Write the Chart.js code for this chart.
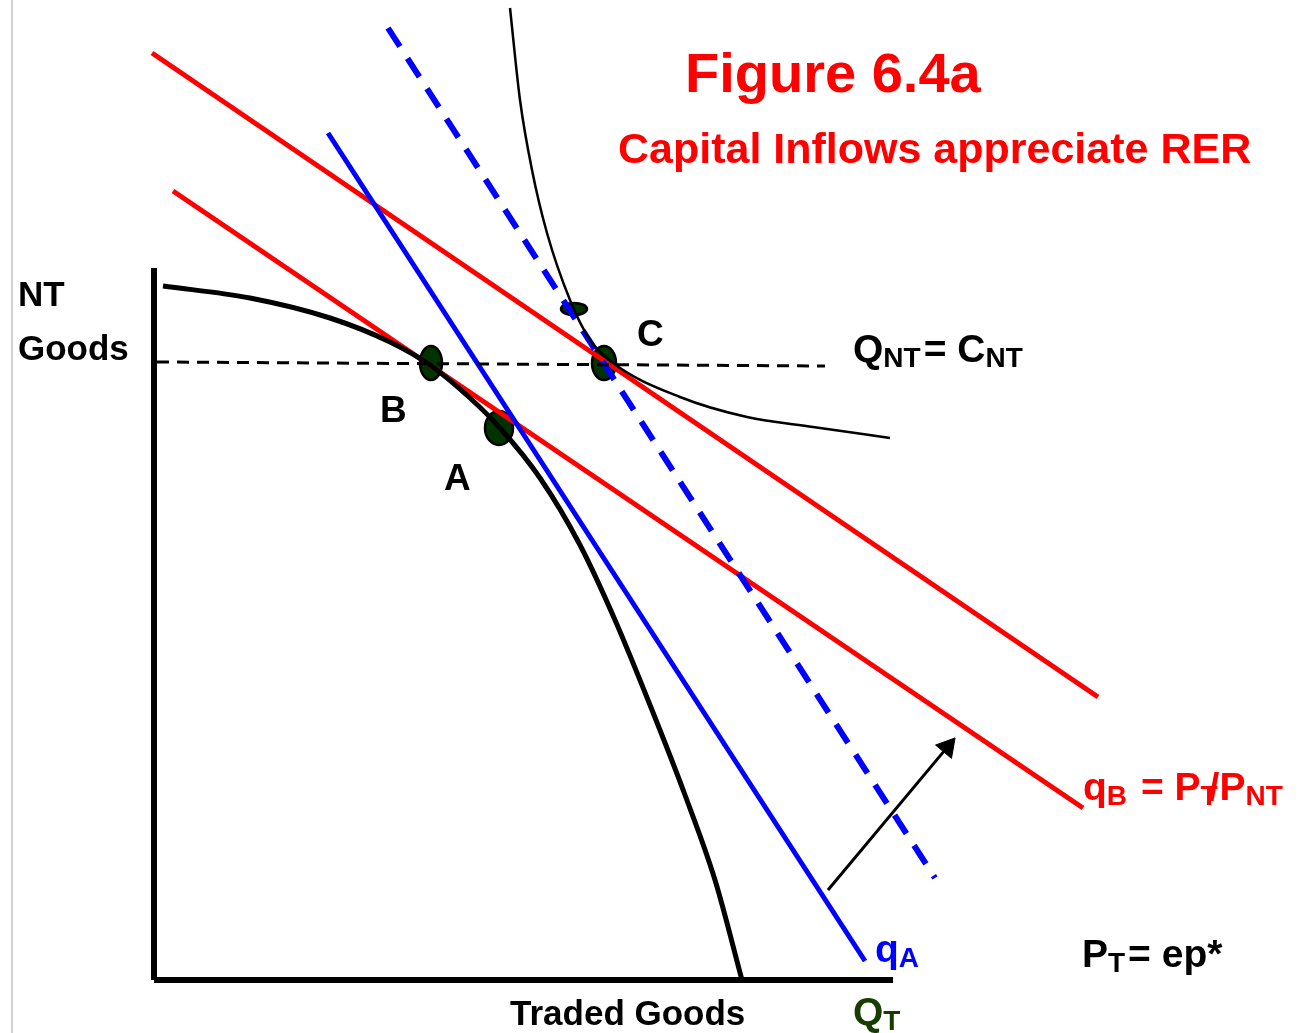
<!DOCTYPE html>
<html>
<head>
<meta charset="utf-8">
<script src="https://cdn.jsdelivr.net/npm/chart.js@4.4.1/dist/chart.umd.min.js"></script>
<style>
  html, body { margin: 0; padding: 0; background: #fff; }
  #wrap { width: 1299px; height: 1033px; position: relative; }
</style>
</head>
<body>
<div id="wrap"><canvas id="fig"></canvas></div>
<script>
// diagram units: origin at the corner of the axes
const ppfCurve = [
  { x: 0.6, y: 69.4 }, { x: 9.3, y: 68.2 }, { x: 17.3, y: 66.2 }, { x: 23.3, y: 63.8 },
  { x: 27.3, y: 61.5 }, { x: 31.3, y: 58.2 }, { x: 34.3, y: 55.2 }, { x: 38.3, y: 50.2 },
  { x: 42.3, y: 43.5 }, { x: 45.8, y: 36.0 }, { x: 49.3, y: 27.5 }, { x: 52.8, y: 18.5 },
  { x: 55.8, y: 10.0 }, { x: 58.5, y: 0 }
]
const indifference = [
  { x: 35.3, y: 97.2 }, { x: 36.3, y: 88.0 }, { x: 37.5, y: 81.0 }, { x: 39.0, y: 74.7 },
  { x: 41.3, y: 68.0 }, { x: 43.3, y: 64.0 }, { x: 45.6, y: 61.7 }, { x: 52.3, y: 58.3 },
  { x: 59.0, y: 56.3 }, { x: 65.6, y: 55.3 }, { x: 73.3, y: 54.2 }
]
const qBUpper = [{ x: -0.5, y: 92.7 }, { x: 94.1, y: 28.3 }]
const qBLower = [{ x: 1.6, y: 78.9 }, { x: 92.6, y: 17.2 }]
const qASolid = [{ x: 17.1, y: 84.7 }, { x: 70.8, y: 1.9 }]
const qADashed = [{ x: 23.1, y: 95.2 }, { x: 77.8, y: 10.2 }]
const qntLine = [{ x: 0, y: 61.8 }, { x: 66.8, y: 61.4 }]
const yAxisLine = [{ x: -0.3, y: 71.2 }, { x: -0.3, y: 0 }]
const xAxisLine = [{ x: -0.3, y: 0 }, { x: 73.6, y: 0 }]
const frameLine = [{ x: -14.5, y: -5.3 }, { x: -14.5, y: 98 }]
const shiftArrow = [{ x: 67.1, y: 9.0 }, { x: 79.8, y: 24.2 }]
const eqPoints = [
  { x: 27.4, y: 61.7 }, // B
  { x: 34.2, y: 55.2 }, // A
  { x: 44.7, y: 61.7 }, // C
  { x: 41.7, y: 67.1 }  // on indifference curve
]

// arrow head sits a little back from the arrow end so its tip lands on the end
const headAt = {
  x: shiftArrow[1].x - 0.06 * (shiftArrow[1].x - shiftArrow[0].x),
  y: shiftArrow[1].y - 0.06 * (shiftArrow[1].y - shiftArrow[0].y)
}

// text labels (runs: normal / subscript)
const labels = [
  { at: [52.8, 88.8], color: '#ff0000', size: 56, runs: [['Figure 6.4a']] },
  { at: [46.1, 81.7], color: '#ff0000', size: 43, runs: [['Capital Inflows appreciate RER']] },
  { at: [-13.9, 67.4], color: '#000', size: 35, runs: [['NT']] },
  { at: [-13.9, 62.0], color: '#000', size: 35, runs: [['Goods']] },
  { at: [22.3, 55.8], color: '#000', size: 37, runs: [['B']] },
  { at: [28.7, 49.0], color: '#000', size: 37, runs: [['A']] },
  { at: [48.0, 63.4], color: '#000', size: 37, runs: [['C']] },
  { at: [69.6, 61.8], color: '#000', size: 39, runs: [['Q'], ['NT', 1], ['= C'], ['NT', 1]] },
  { at: [92.6, 18.0], color: '#ff0000', size: 39, runs: [['q'], ['B', 1], [' = P'], ['T', 1], ['/P', 0, -12], ['NT', 1]] },
  { at: [71.8, 1.8], color: '#0000ff', size: 39, runs: [['q'], ['A', 1]] },
  { at: [92.5, 1.3], color: '#000', size: 39, runs: [['P'], ['T', 1], ['= ep*']] },
  { at: [69.6, -4.5], color: '#173d00', size: 39, runs: [['Q'], ['T', 1]] },
  { at: [35.3, -4.5], color: '#000', size: 35, runs: [['Traded Goods']] }
]

function ellipse(w, h) {
  const c = document.createElement('canvas')
  c.width = w + 4
  c.height = h + 4
  const g = c.getContext('2d')
  g.beginPath()
  g.ellipse(c.width / 2, c.height / 2, w / 2, h / 2, 0, 0, Math.PI * 2)
  g.fillStyle = '#003300'
  g.fill()
  g.lineWidth = 2.5
  g.strokeStyle = '#000'
  g.stroke()
  return c
}
const dotStyles = [ellipse(22, 34), ellipse(28, 34), ellipse(24, 34), ellipse(26, 12)]

const textPlugin = {
  id: 'diagramText',
  afterDatasetsDraw(chart) {
    const ctx = chart.ctx
    const sx = chart.scales.x, sy = chart.scales.y
    ctx.save()
    ctx.textBaseline = 'alphabetic'
    ctx.textAlign = 'left'
    labels.forEach(l => {
      let px = sx.getPixelForValue(l.at[0])
      const py = sy.getPixelForValue(l.at[1])
      ctx.fillStyle = l.color
      l.runs.forEach(r => {
        const sub = r[1] === 1
        const fs = sub ? Math.round(l.size * 0.72) : l.size
        ctx.font = 'bold ' + fs + 'px "Liberation Sans", Arial, sans-serif'
        px += r[2] || 0
        ctx.fillText(r[0], px, py + (sub ? l.size * 0.14 : 0))
        px += ctx.measureText(r[0]).width + (sub ? 3 : 0)
      })
    })
    ctx.restore()
  }
}

const lineSet = (data, color, width, dash) => ({
  data: data,
  showLine: true,
  borderColor: color,
  borderWidth: width,
  borderDash: dash || [],
  pointRadius: 0,
  fill: false,
  clip: false
})

new Chart(document.getElementById('fig'), {
  type: 'scatter',
  data: {
    datasets: [
      lineSet(frameLine, '#d0d0d0', 2),
      lineSet(qntLine, '#000', 3, [12, 8]),
      lineSet(yAxisLine, '#000', 6),
      lineSet(xAxisLine, '#000', 6),
      Object.assign(lineSet(ppfCurve, '#000', 5), { cubicInterpolationMode: 'monotone' }),
      Object.assign(lineSet(indifference, '#000', 2.5), { cubicInterpolationMode: 'monotone' }),
      lineSet(qASolid, '#0000ff', 5),
      lineSet(qADashed, '#0000ff', 6, [22, 14]),
      lineSet(qBUpper, '#ff0000', 5),
      lineSet(qBLower, '#ff0000', 5),
      lineSet([shiftArrow[0], headAt], '#000', 3),
      {
        data: [headAt],
        pointStyle: 'triangle',
        rotation: 40,
        pointRadius: 12,
        backgroundColor: '#000',
        borderColor: '#000',
        borderWidth: 1,
        clip: false
      },
      {
        data: eqPoints,
        pointStyle: dotStyles,
        pointRadius: 10,
        clip: false
      }
    ]
  },
  options: {
    responsive: true,
    maintainAspectRatio: false,
    animation: false,
    layout: { padding: 0, autoPadding: false },
    plugins: { legend: { display: false }, tooltip: { enabled: false } },
    scales: {
      x: { type: 'linear', min: -15.7, max: 114.2, display: false },
      y: { type: 'linear', min: -5.3, max: 98.0, display: false }
    }
  },
  plugins: [textPlugin]
})
</script>
</body>
</html>
